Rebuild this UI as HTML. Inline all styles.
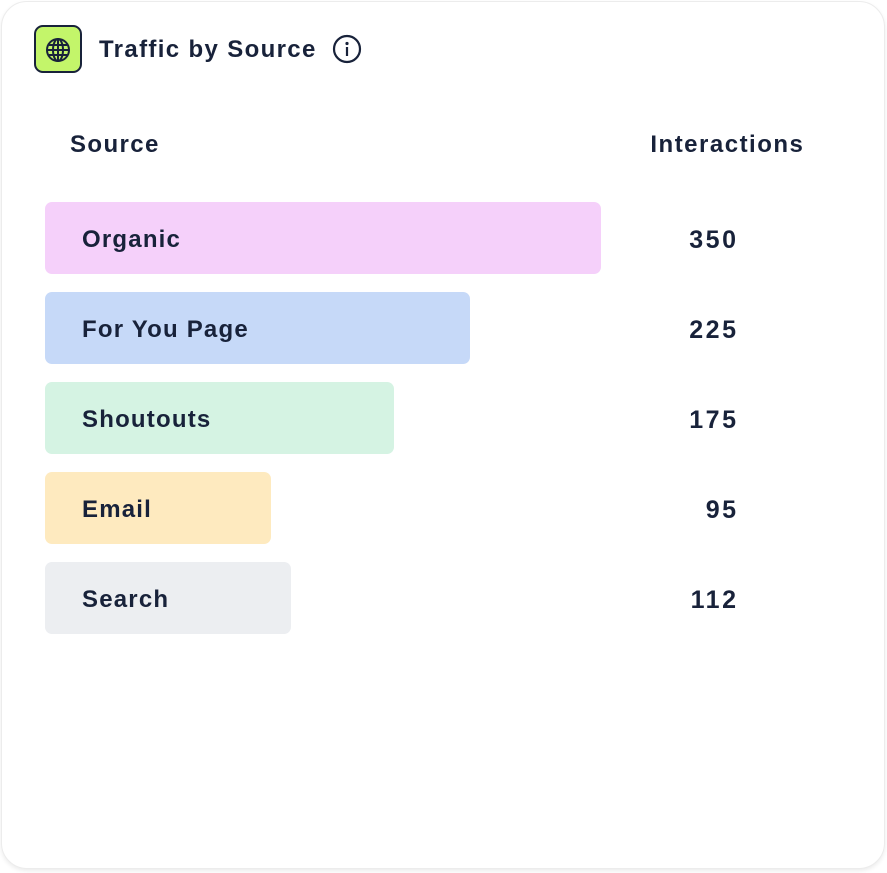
<!DOCTYPE html>
<html><head><style>
body{margin:0;background:#fff;width:887px;height:873px;overflow:hidden;font-family:"Liberation Sans",sans-serif;color:#18223a}
.card{position:absolute;left:1px;top:1px;width:882px;height:866px;border-radius:26px;border:1px solid #ececec;box-shadow:0 2px 4px rgba(0,0,0,0.08);background:#fff}
.abs{position:absolute}
.t{font-weight:bold;letter-spacing:1.4px}
.bar{position:absolute;left:45px;height:72px;border-radius:7px}
.lbl{position:absolute;left:82px;font-size:24px;line-height:28px;font-weight:bold;letter-spacing:1.2px}
.val{position:absolute;right:151px;font-size:25px;line-height:28px;font-weight:bold;letter-spacing:2.5px;text-align:right;margin-right:-2.5px}
</style></head><body>
<div class="card"></div>
<div class="abs" style="left:34px;top:25px;width:44px;height:44px;border:2px solid #18223a;border-radius:9px;background:#c3f56a"></div>
<svg class="abs" style="left:45px;top:37px" width="26" height="26" viewBox="0 0 26 26" fill="none" stroke="#18223a" stroke-width="2"><circle cx="13" cy="13" r="11"/><ellipse cx="13" cy="13" rx="5" ry="11"/><line x1="2" y1="13" x2="24" y2="13"/><line x1="13" y1="2" x2="13" y2="24"/><line x1="4" y1="8" x2="22" y2="8"/><line x1="4" y1="18" x2="22" y2="18"/></svg>
<div class="abs t" style="left:99px;top:35px;font-size:24px;line-height:30px;letter-spacing:1.35px">Traffic by Source</div>
<svg class="abs" style="left:332px;top:34px" width="30" height="30" viewBox="0 0 30 30"><circle cx="15" cy="15" r="13" fill="none" stroke="#18223a" stroke-width="2.2"/><circle cx="15" cy="9.5" r="1.6" fill="#18223a"/><rect x="13.9" y="13" width="2.2" height="9" fill="#18223a"/></svg>
<div class="abs t" style="left:70px;top:131px;font-size:24px;line-height:28px">Source</div>
<div class="abs t" style="right:84px;top:131px;font-size:24px;line-height:28px;margin-right:-1.4px;letter-spacing:1.5px">Interactions</div>

<div class="bar" style="top:202px;width:556px;background:#f5d0fa"></div>
<div class="lbl" style="top:226px">Organic</div><div class="val" style="top:226px">350</div>
<div class="bar" style="top:292px;width:425px;background:#c6d9f8"></div>
<div class="lbl" style="top:316px">For You Page</div><div class="val" style="top:316px">225</div>
<div class="bar" style="top:382px;width:349px;background:#d5f3e3"></div>
<div class="lbl" style="top:406px">Shoutouts</div><div class="val" style="top:406px">175</div>
<div class="bar" style="top:472px;width:226px;background:#feeabf"></div>
<div class="lbl" style="top:496px">Email</div><div class="val" style="top:496px">95</div>
<div class="bar" style="top:562px;width:246px;background:#eceef1"></div>
<div class="lbl" style="top:586px">Search</div><div class="val" style="top:586px">112</div>
</body></html>
